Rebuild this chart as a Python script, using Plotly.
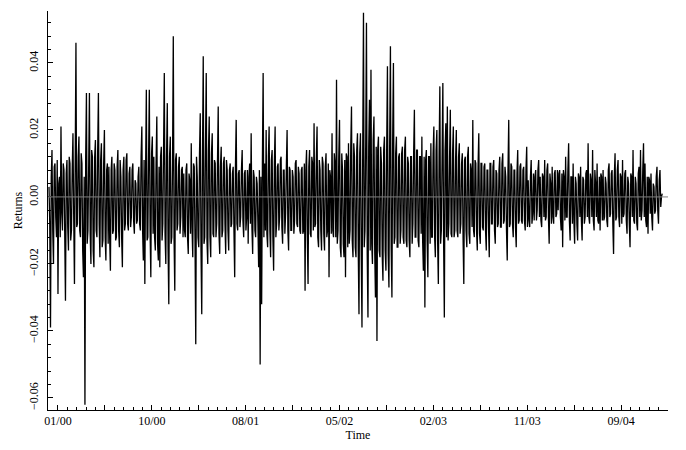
import numpy as np
import plotly.graph_objects as go

# Daily returns: the outer excursions (spikes / band edges)
returns = [
    0.003, -0.039, 0.014, -0.020, 0.010, -0.012, -0.029, 0.006, 0.021, -0.010,
    0.008, -0.031, 0.011, -0.016, 0.010, -0.010, 0.019, -0.026, 0.046, -0.008,
    0.018, -0.012, 0.010, -0.024, -0.062, 0.031, -0.010, 0.031, -0.020, 0.012,
    -0.021, 0.017, -0.012, 0.031, -0.018, 0.016, -0.013, 0.020, -0.019, 0.010,
    0.009, -0.022, 0.012, -0.010, 0.008, -0.012, 0.014, -0.015, 0.006, -0.021,
    0.012, -0.008, 0.013, -0.010, 0.009, -0.006, 0.010, -0.011, 0.004, -0.007,
    0.009, -0.010, 0.021, -0.019, -0.026, 0.032, -0.012, 0.032, -0.024, 0.018,
    0.012, -0.016, 0.024, -0.019, -0.021, 0.015, -0.008, 0.037, -0.020, 0.028,
    -0.032, 0.018, -0.012, 0.048, -0.028, 0.013, -0.008, 0.012, -0.006, 0.009,
    0.007, -0.012, 0.010, -0.017, 0.005, 0.016, -0.018, 0.009, -0.044, 0.006,
    -0.015, 0.025, -0.035, 0.042, -0.012, 0.037, -0.020, 0.024, -0.018, 0.019,
    -0.012, 0.010, -0.008, 0.027, -0.017, 0.015, -0.010, 0.012, -0.017, 0.008,
    -0.016, 0.010, -0.008, 0.009, -0.024, 0.023, -0.010, 0.008, -0.006, 0.014,
    -0.012, 0.008, -0.006, -0.014, 0.010, 0.019, -0.017, 0.006, -0.012, 0.004,
    -0.021, -0.050, -0.032, 0.037, 0.010, 0.020, -0.015, 0.021, -0.018, 0.014,
    -0.022, 0.021, -0.008, 0.010, -0.006, 0.012, -0.014, 0.008, -0.005, 0.020,
    -0.016, 0.008, -0.010, 0.006, -0.007, 0.011, -0.009, 0.007, -0.011, 0.009,
    -0.010, -0.028, 0.014, -0.026, 0.014, -0.012, 0.010, 0.022, -0.008, 0.021,
    -0.015, 0.008, -0.016, 0.010, -0.016, 0.013, -0.010, -0.024, 0.006, 0.019,
    -0.012, 0.010, 0.035, -0.010, 0.023, -0.018, 0.008, -0.018, -0.024, 0.012,
    0.016, -0.010, 0.027, -0.018, 0.012, -0.018, 0.019, -0.035, 0.019, -0.039,
    0.055, -0.010, 0.052, -0.036, 0.029, 0.038, -0.020, 0.024, -0.030, -0.043,
    0.018, -0.018, 0.010, -0.025, 0.018, -0.022, 0.039, -0.027, 0.045, -0.030,
    0.040, -0.012, 0.018, -0.015, 0.013, -0.010, 0.015, -0.014, 0.018, -0.015,
    0.010, -0.018, 0.012, -0.008, 0.026, -0.012, 0.014, -0.015, 0.012, 0.018,
    -0.022, -0.033, 0.014, -0.024, 0.012, 0.016, -0.012, 0.021, -0.018, 0.020,
    -0.026, 0.033, -0.010, 0.034, -0.036, 0.022, 0.027, -0.008, 0.026, -0.012,
    0.021, -0.010, 0.020, -0.012, 0.016, -0.008, 0.013, -0.026, 0.012, -0.015,
    0.015, -0.014, 0.008, 0.023, -0.012, 0.010, -0.016, 0.019, -0.014, 0.010,
    -0.010, 0.010, -0.016, 0.008, -0.018, 0.010, -0.008, 0.011, -0.014, 0.007,
    -0.008, 0.012, -0.009, 0.013, -0.007, 0.006, -0.019, 0.023, -0.008, 0.009,
    -0.012, 0.008, -0.015, 0.014, -0.007, 0.010, -0.008, 0.009, -0.010, 0.015,
    0.005, -0.009, 0.011, -0.005, -0.007, 0.008, -0.004, 0.011, 0.006, -0.009,
    0.006, 0.011, -0.006, 0.010, -0.014, 0.004, 0.009, -0.008, 0.008, -0.005,
    -0.004, 0.008, -0.010, -0.015, 0.006, 0.012, -0.006, 0.016, -0.013, 0.006,
    0.010, -0.014, 0.004, -0.013, 0.006, 0.009, -0.013, 0.005, -0.006, 0.008,
    0.016, -0.008, 0.005, 0.014, -0.010, 0.004, 0.010, -0.008, -0.010, 0.006,
    0.008, -0.006, 0.004, -0.009, 0.010, -0.005, 0.008, -0.017, 0.013, -0.006,
    0.011, -0.009, 0.006, 0.011, -0.005, 0.008, -0.011, 0.004, -0.015, 0.006,
    0.014, -0.008, 0.004, -0.010, 0.009, 0.014, -0.004, 0.016, 0.010, -0.009,
    -0.011, 0.005, 0.007, -0.010, 0.003, -0.004, 0.009, -0.008, 0.008, 0.000,
]

# Returns on the days in between (the dense core band of the picture)
core = [
    -0.008, 0.006, -0.010, 0.009, -0.006, 0.011, 0.004, -0.012, -0.005, 0.010,
    -0.011, 0.007, -0.009, 0.012, -0.013, 0.008, -0.006, 0.010, -0.009, 0.012,
    -0.010, 0.013, -0.016, 0.006, 0.012, -0.014, 0.009, -0.011, 0.014, -0.016,
    0.012, -0.010, 0.014, -0.008, 0.011, -0.015, 0.010, -0.012, 0.008, -0.014,
    -0.012, 0.008, -0.011, 0.010, -0.013, 0.009, -0.010, 0.011, -0.012, 0.008,
    -0.010, 0.011, -0.008, 0.007, -0.009, 0.008, -0.007, 0.005, -0.008, 0.006,
    -0.008, 0.012, -0.010, 0.011, 0.008, -0.013, 0.012, -0.010, 0.013, -0.011,
    -0.012, 0.010, -0.014, 0.009, 0.012, -0.013, 0.014, -0.011, 0.012, -0.015,
    0.012, -0.014, 0.010, -0.012, 0.011, -0.010, 0.009, -0.011, 0.008, -0.012,
    -0.010, 0.008, -0.012, 0.007, -0.011, -0.009, 0.010, -0.013, 0.012, -0.012,
    0.013, -0.016, 0.012, -0.014, 0.015, -0.013, 0.014, -0.012, 0.013, -0.011,
    0.011, -0.012, 0.010, -0.011, 0.009, -0.012, 0.010, -0.008, 0.011, -0.010,
    0.008, -0.009, 0.007, -0.010, 0.009, -0.008, 0.007, -0.009, 0.008, -0.007,
    0.007, -0.010, 0.008, 0.006, -0.008, -0.009, 0.008, -0.010, 0.006, -0.008,
    0.008, 0.006, 0.010, -0.012, -0.010, -0.011, 0.012, -0.010, 0.011, -0.012,
    0.010, -0.012, 0.009, -0.010, 0.011, -0.009, 0.008, -0.011, 0.009, -0.010,
    0.009, -0.010, 0.008, -0.011, 0.010, -0.008, 0.009, -0.010, 0.008, -0.011,
    0.010, 0.008, -0.012, 0.009, -0.011, 0.012, -0.010, -0.009, 0.011, -0.012,
    0.011, -0.010, 0.012, -0.011, 0.009, -0.012, 0.010, 0.008, -0.011, -0.010,
    0.013, -0.012, -0.014, 0.012, -0.015, 0.013, -0.014, 0.011, 0.013, -0.015,
    -0.014, 0.015, -0.013, 0.016, -0.015, 0.014, -0.016, 0.013, -0.017, 0.015,
    -0.015, 0.016, -0.017, 0.015, -0.016, -0.014, 0.017, -0.016, 0.015, 0.014,
    -0.016, 0.015, -0.017, 0.014, -0.016, 0.015, -0.017, 0.016, -0.015, 0.017,
    -0.014, 0.013, -0.015, 0.012, -0.014, 0.013, -0.012, 0.014, -0.013, 0.012,
    -0.013, 0.012, -0.014, 0.013, -0.012, 0.014, -0.013, 0.012, -0.011, -0.013,
    0.012, 0.011, -0.013, 0.012, -0.014, -0.012, 0.013, -0.012, 0.014, -0.013,
    0.013, -0.014, 0.012, -0.013, 0.014, -0.012, -0.013, 0.012, -0.011, 0.013,
    -0.012, 0.011, -0.010, 0.012, -0.011, 0.010, -0.012, 0.011, -0.010, 0.012,
    -0.011, 0.010, -0.009, -0.010, 0.011, -0.010, 0.009, -0.011, 0.010, -0.009,
    0.009, -0.010, 0.008, -0.009, 0.010, -0.008, 0.009, -0.010, 0.008, -0.009,
    0.008, -0.009, 0.010, -0.008, 0.009, -0.010, 0.008, -0.009, 0.010, -0.008,
    0.008, -0.009, 0.007, -0.008, 0.009, -0.007, 0.008, -0.007, 0.008, -0.009,
    -0.007, 0.006, -0.008, 0.007, 0.006, -0.007, 0.008, -0.006, -0.007, 0.007,
    -0.006, -0.007, 0.008, -0.006, 0.007, -0.008, -0.006, 0.007, -0.006, 0.008,
    0.007, -0.006, 0.007, 0.008, -0.007, -0.006, 0.008, -0.007, 0.006, -0.008,
    -0.007, 0.006, -0.008, 0.007, -0.006, -0.007, 0.006, -0.008, 0.007, -0.006,
    -0.006, 0.007, -0.006, -0.007, 0.008, -0.006, -0.007, 0.006, 0.007, -0.007,
    -0.007, 0.006, -0.007, 0.008, -0.006, 0.007, -0.008, 0.006, -0.007, 0.008,
    -0.006, 0.007, -0.008, -0.006, 0.007, -0.007, 0.006, -0.008, 0.007, -0.006,
    -0.007, 0.006, -0.008, 0.007, -0.006, -0.007, 0.008, -0.006, -0.007, 0.006,
    0.006, -0.005, -0.006, 0.004, -0.005, 0.006, -0.004, 0.005, -0.003, 0.001,
]

tick_labels = ["01/00", "10/00", "08/01", "05/02", "02/03", "11/03", "09/04"]
y_tick_values = [-0.06, -0.04, -0.02, 0.00, 0.02, 0.04]

# chronological order: each outer value followed by the next in-between day
series = np.empty(2 * len(returns))
series[0::2] = returns
series[1::2] = core
t = np.arange(len(series))  # trading-day index

# axis geometry in index units
first_label = 12.0
label_step = 125.333
n_major = 2 * len(tick_labels)
major_vals = [first_label + label_step * k / 2 for k in range(n_major)]
major_text = [tick_labels[k // 2] if k % 2 == 0 else "" for k in range(n_major)]

font = dict(family="Liberation Serif, Times New Roman, serif", size=12, color="black")

fig = go.Figure()
fig.add_trace(go.Scatter(
    x=t, y=series, mode="lines",
    line=dict(color="black", width=1.3, simplify=False),
    showlegend=False, hoverinfo="skip",
))

# gray zero reference line drawn over the series
fig.add_shape(type="line", xref="paper", x0=0, x1=1, yref="y", y0=0, y1=0,
              line=dict(color="#808080", width=1), layer="above")

fig.update_layout(
    template="none",
    width=678, height=442,
    margin=dict(l=40, r=18, t=3, b=40, pad=0),
    paper_bgcolor="white", plot_bgcolor="white",
    font=font,
    showlegend=False,
)

fig.update_xaxes(
    range=[-1.333, 826.7],
    showline=True, linecolor="black", linewidth=1,
    showgrid=False, zeroline=False,
    ticks="inside", ticklen=5, tickwidth=1, tickcolor="black",
    tickmode="array", tickvals=major_vals, ticktext=major_text,
    tickfont=font,
    minor=dict(ticks="inside", ticklen=3, tickwidth=1, tickcolor="black",
               tick0=first_label, dtick=label_step / 10, showgrid=False),
    title=dict(text="Time", font=font, standoff=0),
    automargin=False,
)

fig.update_yaxes(
    range=[-0.0636, 0.0555],
    showline=True, linecolor="black", linewidth=1,
    showgrid=False, zeroline=False,
    ticks="inside", ticklen=5, tickwidth=1, tickcolor="black",
    tickmode="array", tickvals=y_tick_values, tickformat=".2f",
    tickangle=-90, tickfont=font, ticklabelstandoff=4,
    minor=dict(ticks="inside", ticklen=3, tickwidth=1, tickcolor="black",
               tick0=0, dtick=0.004, showgrid=False),
    title=dict(text="Returns", font=font, standoff=2),
    automargin=False,
)

fig.write_html("out.html")
